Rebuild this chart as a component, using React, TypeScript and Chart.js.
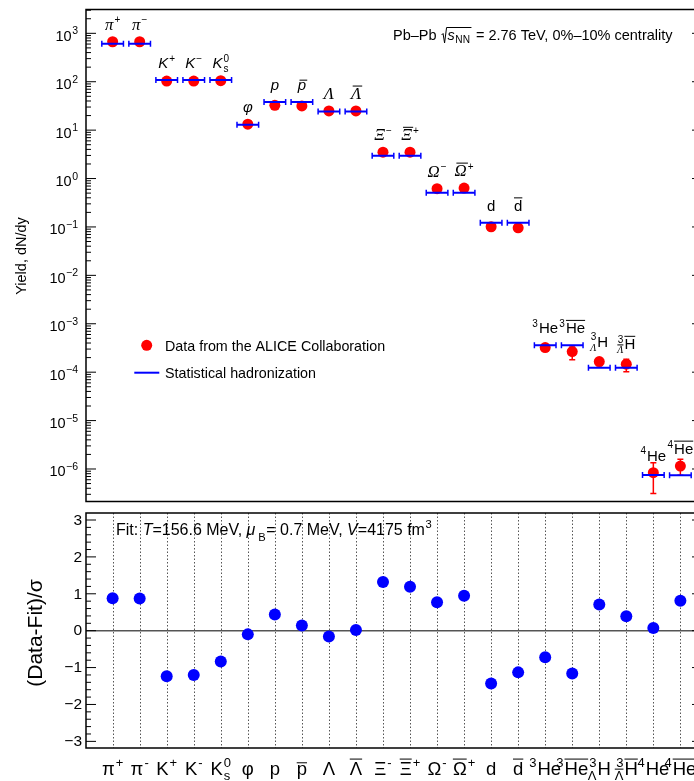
import React, { useEffect, useRef } from 'react';
import { Chart, registerables } from 'chart.js';

Chart.register(...registerables);

// ---------------- DATA ----------------
const categories = ['π+', 'π−', 'K+', 'K−', 'K0s', 'φ', 'p', 'p̄', 'Λ', 'Λ̄', 'Ξ−', 'Ξ̄+', 'Ω−', 'Ω̄+', 'd', 'd̄', '3He', '3He̅', '3ΛH', '3Λ̄H̄', '4He', '4He̅'];

const yields = [670, 670, 103, 103, 105, 13.3, 32.6, 31.6, 24.9, 24.9, 3.5, 3.5, 0.616, 0.637, 0.101, 0.096, 3.22e-4, 2.67e-4, 1.66e-4, 1.46e-4, 8.4e-7, 1.15e-6];
const yieldErrLow: (number | null)[] = [null, null, null, null, null, null, null, null, null, null, null, null, null, null, null, null, 2.95e-4, 1.8e-4, 1.35e-4, 1.02e-4, 3.1e-7, 7.4e-7];
const yieldErrHigh: (number | null)[] = [null, null, null, null, null, null, null, null, null, null, null, null, null, null, null, null, 3.5e-4, 3.3e-4, 1.95e-4, 1.85e-4, 1.35e-6, 1.58e-6];
const modelYields = [610, 610, 108, 108, 108, 12.9, 38, 38, 24.2, 24.2, 2.97, 2.97, 0.51, 0.51, 0.122, 0.122, 3.59e-4, 3.59e-4, 1.23e-4, 1.23e-4, 7.5e-7, 7.4e-7];
const residuals = [0.88, 0.87, -1.235, -1.2, -0.835, -0.1, 0.44, 0.14, -0.16, 0.02, 1.32, 1.19, 0.77, 0.95, -1.43, -1.13, -0.72, -1.16, 0.71, 0.39, 0.07, 0.81];

const yieldTickExponents = [3, 2, 1, 0, -1, -2, -3, -4, -5, -6];
const residualTicks = [3, 2, 1, 0, -1, -2, -3];

type Spec = { base: string; sup?: string; sub?: string; pre?: string; preSub?: string; preSubBar?: boolean; bar?: boolean; style?: 'greek' | 'latin' | 'plain' };
const particleLabels: Spec[] = [
  { base: 'π', sup: '+', style: 'greek' },
  { base: 'π', sup: '-', style: 'greek' },
  { base: 'K', sup: '+', style: 'latin' },
  { base: 'K', sup: '-', style: 'latin' },
  { base: 'K', sup: '0', sub: 's', style: 'latin' },
  { base: 'φ', style: 'latin' },
  { base: 'p', style: 'latin' },
  { base: 'p', bar: true, style: 'latin' },
  { base: 'Λ', style: 'greek' },
  { base: 'Λ', bar: true, style: 'greek' },
  { base: 'Ξ', sup: '-', style: 'greek' },
  { base: 'Ξ', sup: '+', bar: true, style: 'greek' },
  { base: 'Ω', sup: '-', style: 'greek' },
  { base: 'Ω', sup: '+', bar: true, style: 'greek' },
  { base: 'd', style: 'plain' },
  { base: 'd', bar: true, style: 'plain' },
  { base: 'He', pre: '3', style: 'plain' },
  { base: 'He', pre: '3', bar: true, style: 'plain' },
  { base: 'H', pre: '3', preSub: 'Λ', style: 'plain' },
  { base: 'H', pre: '3', preSub: 'Λ', preSubBar: true, bar: true, style: 'plain' },
  { base: 'He', pre: '4', style: 'plain' },
  { base: 'He', pre: '4', bar: true, style: 'plain' },
];

const legendData = 'Data from the ALICE Collaboration';
const legendModel = 'Statistical hadronization';

// ---------------- STYLE ----------------
const RED = '#ff0000';
const BLUE = '#0000ff';
const SANS = '"Liberation Sans", Arial, Helvetica, sans-serif';
const SERIF = '"Liberation Serif", "Times New Roman", serif';
const CANVAS_W = 720;
const X_MIN = -0.985;
const X_MAX = 21.8;

function drawParticle(ctx: CanvasRenderingContext2D, s: Spec, cx: number, baseline: number, size: number, topStyle: boolean) {
  const baseFont = topStyle
    ? s.style === 'greek' ? `italic ${size * 1.12}px ${SERIF}` : s.style === 'latin' ? `italic ${size}px ${SANS}` : `${size}px ${SANS}`
    : `${size}px ${SANS}`;
  const ss = Math.round(size * 0.68);
  const smallFont = `${ss}px ${SANS}`;
  const preSubFont = topStyle ? `italic ${ss}px ${SERIF}` : smallFont;
  const supText = s.sup ? (topStyle ? s.sup.replace('-', '−') : s.sup) : '';
  ctx.font = smallFont;
  const wPre = s.pre ? ctx.measureText(s.pre).width : 0;
  const wSup = supText ? ctx.measureText(supText).width : 0;
  const wSub = s.sub ? ctx.measureText(s.sub).width : 0;
  ctx.font = preSubFont;
  const wPreSub = s.preSub ? ctx.measureText(s.preSub).width : 0;
  ctx.font = baseFont;
  const wBase = ctx.measureText(s.base).width;
  const preW = Math.max(wPre, wPreSub);
  const postW = Math.max(wSup, wSub);
  const gapPre = preW ? 1 : 0;
  const gapPost = postW ? 1 : 0;
  const total = preW + gapPre + wBase + gapPost + postW;
  let x = cx - total / 2;
  ctx.textAlign = 'left';
  ctx.textBaseline = 'alphabetic';
  ctx.fillStyle = '#000';
  ctx.strokeStyle = '#000';
  ctx.lineWidth = 1;
  if (s.pre) {
    ctx.font = smallFont;
    ctx.fillText(s.pre, x + preW - wPre, baseline - size * 0.42);
  }
  if (s.preSub) {
    ctx.font = preSubFont;
    const px = x + preW - wPreSub;
    const py = baseline + size * 0.28;
    ctx.fillText(s.preSub, px, py);
    if (s.preSubBar) {
      ctx.beginPath();
      ctx.moveTo(px, py - ss * 0.85);
      ctx.lineTo(px + wPreSub, py - ss * 0.85);
      ctx.stroke();
    }
  }
  x += preW + gapPre;
  ctx.font = baseFont;
  ctx.fillText(s.base, x, baseline);
  if (s.bar) {
    const by = baseline - size * (s.base === 'p' ? 0.66 : 0.86);
    ctx.beginPath();
    ctx.moveTo(x + (topStyle && s.style !== 'plain' ? size * 0.12 : 0), by);
    ctx.lineTo(x + wBase + (topStyle && s.style !== 'plain' ? size * 0.08 : 0), by);
    ctx.stroke();
  }
  x += wBase + gapPost;
  if (supText) {
    ctx.font = smallFont;
    ctx.fillText(supText, x, baseline - size * 0.42);
  }
  if (s.sub) {
    ctx.font = smallFont;
    ctx.fillText(s.sub, x, baseline + size * 0.25);
  }
}

function drawRuns(ctx: CanvasRenderingContext2D, runs: { t: string; f: string; dy?: number; gap?: number }[], x: number, baseline: number) {
  let cx = x;
  ctx.textAlign = 'left';
  ctx.textBaseline = 'alphabetic';
  for (const r of runs) {
    ctx.font = r.f;
    ctx.fillText(r.t, cx, baseline + (r.dy || 0));
    cx += ctx.measureText(r.t).width + (r.gap || 0);
  }
  return cx;
}

const topPlugin = {
  id: 'topDecor',
  beforeDatasetsDraw(chart: any) {
    const { ctx, scales } = chart;
    const xs = scales.x, ys = scales.y;
    ctx.save();
    ctx.strokeStyle = RED;
    ctx.lineWidth = 1.5;
    for (let i = 0; i < categories.length; i++) {
      const lo = yieldErrLow[i], hi = yieldErrHigh[i];
      if (lo == null || hi == null) continue;
      const px = xs.getPixelForValue(i);
      const y1 = ys.getPixelForValue(lo), y2 = ys.getPixelForValue(hi);
      ctx.beginPath();
      ctx.moveTo(px, y1); ctx.lineTo(px, y2);
      ctx.moveTo(px - 3, y1); ctx.lineTo(px + 3, y1);
      ctx.moveTo(px - 3, y2); ctx.lineTo(px + 3, y2);
      ctx.stroke();
    }
    ctx.restore();
  },
  afterDraw(chart: any) {
    const { ctx, chartArea: a, scales } = chart;
    const xs = scales.x, ys = scales.y;
    ctx.save();
    // frame
    ctx.strokeStyle = '#000';
    ctx.lineWidth = 1.5;
    ctx.strokeRect(a.left, a.top, a.right - a.left, a.bottom - a.top);
    // ticks
    ctx.lineWidth = 1;
    const minE = Math.floor(Math.log10(ys.min));
    const maxE = Math.ceil(Math.log10(ys.max));
    ctx.beginPath();
    for (let e = minE; e <= maxE; e++) {
      for (let k = 1; k <= 9; k++) {
        const v = k * Math.pow(10, e);
        if (v < ys.min || v > ys.max) continue;
        const py = ys.getPixelForValue(v);
        const len = k === 1 ? 10 : 5;
        ctx.moveTo(a.left, py); ctx.lineTo(a.left + len, py);
        ctx.moveTo(a.right, py); ctx.lineTo(a.right - len, py);
      }
    }
    ctx.stroke();
    // tick labels
    ctx.fillStyle = '#000';
    for (const e of yieldTickExponents) {
      const py = ys.getPixelForValue(Math.pow(10, e));
      const expText = e < 0 ? '−' + Math.abs(e) : String(e);
      ctx.font = `10.5px ${SANS}`;
      const we = ctx.measureText(expText).width;
      ctx.font = `14.5px ${SANS}`;
      const wb = ctx.measureText('10').width;
      const right = 78;
      ctx.textAlign = 'left';
      ctx.textBaseline = 'alphabetic';
      ctx.fillText('10', right - we - wb - 0.5, py + 7.5);
      ctx.font = `10.5px ${SANS}`;
      ctx.fillText(expText, right - we, py + 1);
    }
    // y title
    ctx.save();
    ctx.translate(22, 256);
    ctx.rotate(-Math.PI / 2);
    ctx.font = `14.5px ${SANS}`;
    ctx.textAlign = 'center';
    ctx.textBaseline = 'middle';
    ctx.fillText('Yield, dN/dy', 0, 0);
    ctx.restore();
    // annotation
    const fs = 14.5;
    let x = drawRuns(ctx, [{ t: 'Pb–Pb ', f: `${fs}px ${SANS}` }], 393, 40);
    x += 1;
    ctx.font = `italic ${fs}px ${SANS}`;
    const ws = ctx.measureText('s').width;
    ctx.font = `${fs * 0.7}px ${SANS}`;
    const wnn = ctx.measureText('NN').width;
    ctx.beginPath();
    ctx.lineWidth = 1;
    ctx.moveTo(x, 35);
    ctx.lineTo(x + 1.5, 33.5);
    ctx.lineTo(x + 3, 43);
    ctx.lineTo(x + 5, 27.5);
    ctx.lineTo(x + 6 + ws + wnn + 2, 27.5);
    ctx.stroke();
    x += 6;
    x = drawRuns(ctx, [
      { t: 's', f: `italic ${fs}px ${SANS}`, gap: 0.5 },
      { t: 'NN', f: `${fs * 0.7}px ${SANS}`, dy: 3, gap: 2 },
      { t: ' = 2.76 TeV, 0%–10% centrality', f: `${fs}px ${SANS}` },
    ], x, 40);
    // legend
    ctx.fillStyle = RED;
    ctx.beginPath();
    ctx.arc(146.7, 345.3, 5.5, 0, Math.PI * 2);
    ctx.fill();
    ctx.strokeStyle = BLUE;
    ctx.lineWidth = 2;
    ctx.beginPath();
    ctx.moveTo(134.3, 372.7); ctx.lineTo(159.3, 372.7);
    ctx.stroke();
    ctx.fillStyle = '#000';
    ctx.font = `14.3px ${SANS}`;
    ctx.textAlign = 'left';
    ctx.textBaseline = 'alphabetic';
    ctx.fillText(legendData, 165, 350.5);
    ctx.fillText(legendModel, 165, 377.5);
    // particle labels
    for (let i = 0; i < categories.length; i++) {
      const px = xs.getPixelForValue(i);
      const yd = ys.getPixelForValue(yields[i]);
      const ym = ys.getPixelForValue(modelYields[i]);
      const s = particleLabels[i];
      const baseline = Math.min(yd, ym) - 12 - (s.preSub ? 3 : 0);
      drawParticle(ctx, s, px, baseline, 15, true);
    }
    ctx.restore();
  },
};

const bottomPlugin = {
  id: 'bottomDecor',
  beforeDatasetsDraw(chart: any) {
    const { ctx, chartArea: a, scales } = chart;
    const xs = scales.x, ys = scales.y;
    ctx.save();
    ctx.strokeStyle = '#555';
    ctx.lineWidth = 1;
    ctx.setLineDash([1.5, 2]);
    ctx.beginPath();
    for (let i = 0; i < categories.length; i++) {
      const px = Math.round(xs.getPixelForValue(i)) + 0.5;
      ctx.moveTo(px, a.top);
      ctx.lineTo(px, a.bottom);
    }
    ctx.stroke();
    ctx.setLineDash([]);
    ctx.strokeStyle = '#555';
    ctx.lineWidth = 1.5;
    const y0 = ys.getPixelForValue(0);
    ctx.beginPath();
    ctx.moveTo(a.left, y0); ctx.lineTo(a.right, y0);
    ctx.stroke();
    ctx.restore();
  },
  afterDraw(chart: any) {
    const { ctx, chartArea: a, scales } = chart;
    const xs = scales.x, ys = scales.y;
    ctx.save();
    ctx.strokeStyle = '#000';
    ctx.lineWidth = 1.5;
    ctx.strokeRect(a.left, a.top, a.right - a.left, a.bottom - a.top);
    ctx.lineWidth = 1;
    ctx.beginPath();
    for (let k = -16; k <= 16; k++) {
      const v = k * 0.2;
      if (v < ys.min || v > ys.max) continue;
      const py = ys.getPixelForValue(v);
      const len = k % 5 === 0 ? 10 : 5;
      ctx.moveTo(a.left, py); ctx.lineTo(a.left + len, py);
      ctx.moveTo(a.right, py); ctx.lineTo(a.right - len, py);
    }
    ctx.stroke();
    ctx.fillStyle = '#000';
    ctx.font = `15.5px ${SANS}`;
    ctx.textAlign = 'right';
    ctx.textBaseline = 'middle';
    for (const t of residualTicks) {
      const py = ys.getPixelForValue(t);
      ctx.fillText(t < 0 ? '−' + Math.abs(t) : String(t), 82, py + 0.5);
    }
    // y title
    ctx.save();
    ctx.translate(36, a.top + 120);
    ctx.rotate(-Math.PI / 2);
    ctx.font = `21px ${SANS}`;
    ctx.textAlign = 'center';
    ctx.textBaseline = 'middle';
    ctx.fillText('(Data-Fit)/σ', 0, 0);
    ctx.restore();
    // fit text
    const fs = 16;
    ctx.fillStyle = '#000';
    drawRuns(ctx, [
      { t: 'Fit: ', f: `${fs}px ${SANS}` },
      { t: 'T', f: `italic ${fs}px ${SANS}` },
      { t: '=156.6 MeV, ', f: `${fs}px ${SANS}` },
      { t: 'μ', f: `italic ${fs}px ${SANS}`, gap: 3 },
      { t: 'B', f: `${fs * 0.7}px ${SANS}`, dy: 6, gap: 0.5 },
      { t: '= 0.7 MeV, ', f: `${fs}px ${SANS}` },
      { t: 'V', f: `italic ${fs}px ${SANS}` },
      { t: '=4175 fm', f: `${fs}px ${SANS}`, gap: 0.5 },
      { t: '3', f: `${fs * 0.7}px ${SANS}`, dy: -7 },
    ], 116, a.top + 22);
    // x labels
    for (let i = 0; i < categories.length; i++) {
      const px = xs.getPixelForValue(i);
      drawParticle(ctx, particleLabels[i], px, a.bottom + 27, 18.5, false);
    }
    ctx.restore();
  },
};

export default function App() {
  const topRef = useRef<HTMLCanvasElement>(null);
  const botRef = useRef<HTMLCanvasElement>(null);

  useEffect(() => {
    if (!topRef.current || !botRef.current) return;
    const modelSegments: { x: number; y: number | null }[] = [];
    modelYields.forEach((m, i) => {
      modelSegments.push({ x: i - 0.4, y: m });
      modelSegments.push({ x: i + 0.4, y: m });
      modelSegments.push({ x: i + 0.5, y: null });
    });

    const topChart = new Chart(topRef.current, {
      type: 'scatter',
      data: {
        datasets: [
          {
            type: 'line',
            label: legendModel,
            data: modelSegments as any,
            borderColor: BLUE,
            borderWidth: 2,
            pointStyle: 'line',
            pointRotation: 90,
            pointRadius: 3,
            pointBorderColor: BLUE,
            pointBorderWidth: 1.5,
            spanGaps: false,
            tension: 0,
            order: 0,
          } as any,
          {
            type: 'scatter',
            label: legendData,
            data: yields.map((y, i) => ({ x: i, y })),
            backgroundColor: RED,
            borderWidth: 0,
            pointRadius: 5.5,
            order: 1,
          } as any,
        ],
      },
      options: {
        responsive: false,
        animation: false,
        devicePixelRatio: 1,
        events: [],
        layout: { padding: { left: 86, top: 9.5, right: CANVAS_W - 702, bottom: 2 } },
        plugins: { legend: { display: false }, tooltip: { enabled: false } },
        scales: {
          x: { type: 'linear', display: false, min: X_MIN, max: X_MAX },
          y: { type: 'logarithmic', display: false, min: 2.13e-7, max: 3105 },
        },
      } as any,
      plugins: [topPlugin as any],
    });

    const botChart = new Chart(botRef.current, {
      type: 'scatter',
      data: {
        datasets: [
          {
            label: '(Data-Fit)/σ',
            data: residuals.map((y, i) => ({ x: i, y })),
            backgroundColor: BLUE,
            borderWidth: 0,
            pointRadius: 6,
          },
        ],
      },
      options: {
        responsive: false,
        animation: false,
        devicePixelRatio: 1,
        events: [],
        layout: { padding: { left: 86, top: 2, right: CANVAS_W - 702, bottom: 33 } },
        plugins: { legend: { display: false }, tooltip: { enabled: false } },
        scales: {
          x: { type: 'linear', display: false, min: X_MIN, max: X_MAX },
          y: { type: 'linear', display: false, min: -3.18, max: 3.19 },
        },
      } as any,
      plugins: [bottomPlugin as any],
    });

    return () => {
      topChart.destroy();
      botChart.destroy();
    };
  }, []);

  return (
    <div style={{ position: 'absolute', left: 0, top: 0, width: 694, height: 781, overflow: 'hidden', background: '#fff' }}>
      <canvas ref={topRef} width={CANVAS_W} height={507} style={{ position: 'absolute', left: 0, top: 0 }} />
      <canvas ref={botRef} width={CANVAS_W} height={274} style={{ position: 'absolute', left: 0, top: 507 }} />
    </div>
  );
}
